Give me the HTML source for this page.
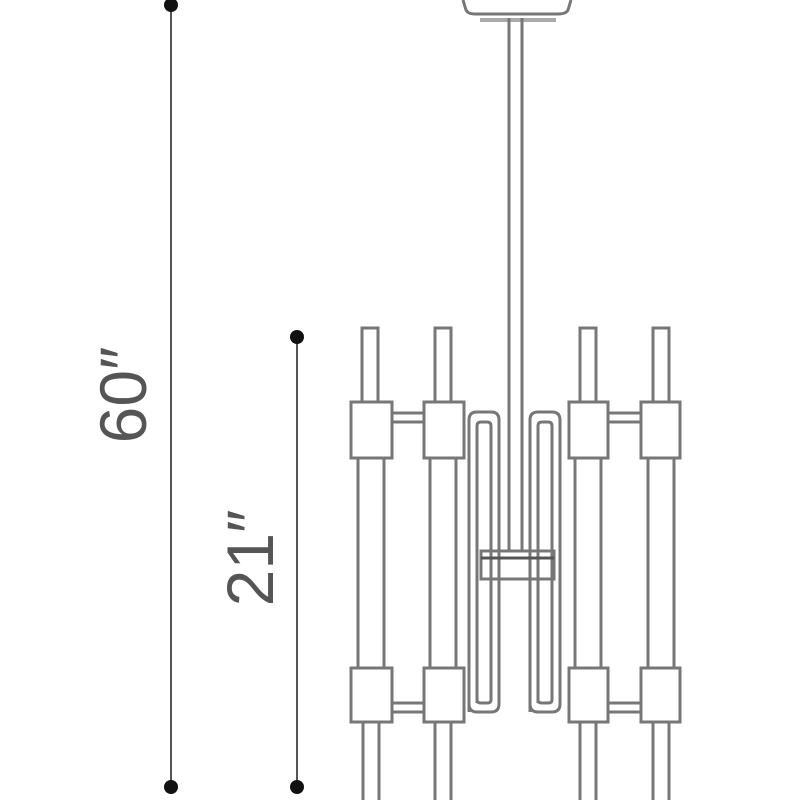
<!DOCTYPE html>
<html><head><meta charset="utf-8"><style>
html,body{margin:0;padding:0;background:#fff;}
svg{display:block}
text{font-family:"Liberation Sans",sans-serif;fill:#555;}
</style></head><body>
<svg width="800" height="800" viewBox="0 0 800 800" xmlns="http://www.w3.org/2000/svg">
<g stroke="#666" stroke-width="2" fill="none">
  <line x1="171" y1="5" x2="171" y2="787" stroke="#555"/>
  <line x1="297" y1="337" x2="297" y2="787" stroke="#555"/>
</g>
<g fill="#111">
  <circle cx="171" cy="5" r="7"/>
  <circle cx="171" cy="787" r="7"/>
  <circle cx="297" cy="337" r="7"/>
  <circle cx="297" cy="787" r="7"/>
</g>
<text transform="translate(146,395) rotate(-90)" font-size="66" text-anchor="middle">60″</text>
<text transform="translate(273,558) rotate(-90)" font-size="66" text-anchor="middle">21″</text>

<g stroke="#777" stroke-width="3" fill="#fff">
  <!-- canopy -->
  <path d="M463,0 L466,10 Q468,14 475,14 L558,14 Q566,14 568,10 L571,0" />
  <line x1="480" y1="20" x2="556" y2="20" stroke="#aaa" stroke-width="4"/>
  <!-- stem -->
  <line x1="509" y1="18" x2="509" y2="552"/>
  <line x1="522" y1="18" x2="522" y2="552"/>

  <!-- loops left -->
  <path d="M469,712 L469,420 Q469,412 477,412 L491,412 Q499,412 499,420 L499,704 Q499,712 491,712 L477,712 Q469,712 469,704" fill="none"/>
  <path d="M477,703 L477,426 Q477,422 481,422 L487,422 Q491,422 491,426 L491,700 Q491,703 487,703 L481,703 Q477,703 477,700" fill="none"/>
  <!-- loops right -->
  <path d="M530,712 L530,420 Q530,412 538,412 L552,412 Q560,412 560,420 L560,704 Q560,712 552,712 L538,712 Q530,712 530,704" fill="none"/>
  <path d="M538,703 L538,426 Q538,422 542,422 L548,422 Q552,422 552,426 L552,700 Q552,703 548,703 L542,703 Q538,703 538,700" fill="none"/>

  <!-- center bracket -->
  <rect x="481" y="551" width="73" height="28" fill="none"/>
  <line x1="481" y1="558" x2="554" y2="558" stroke="#555"/>

  <!-- connectors -->
  <line x1="392" y1="413" x2="424" y2="413"/><line x1="392" y1="422" x2="424" y2="422"/>
  <line x1="608" y1="413" x2="641" y2="413"/><line x1="608" y1="422" x2="641" y2="422"/>
  <line x1="392" y1="703" x2="424" y2="703"/><line x1="392" y1="712" x2="424" y2="712"/>
  <line x1="608" y1="703" x2="641" y2="703"/><line x1="608" y1="712" x2="641" y2="712"/>

  <!-- columns -->
  <g id="c1">
    <rect x="362" y="328" width="16" height="76"/>
    <rect x="358" y="458" width="26" height="210"/>
    <rect x="351" y="402" width="41" height="56"/>
    <rect x="351" y="668" width="41" height="54"/>
    <rect x="363" y="722" width="16" height="80"/>
  </g>
  <g>
    <rect x="435" y="328" width="16" height="76"/>
    <rect x="430" y="458" width="26" height="210"/>
    <rect x="424" y="402" width="40" height="56"/>
    <rect x="424" y="668" width="40" height="54"/>
    <rect x="435" y="722" width="16" height="80"/>
  </g>
  <g>
    <rect x="580" y="328" width="16" height="76"/>
    <rect x="575" y="458" width="26" height="210"/>
    <rect x="569" y="402" width="39" height="56"/>
    <rect x="569" y="668" width="39" height="54"/>
    <rect x="580" y="722" width="16" height="80"/>
  </g>
  <g>
    <rect x="653" y="328" width="16" height="76"/>
    <rect x="648" y="458" width="26" height="210"/>
    <rect x="641" y="402" width="39" height="56"/>
    <rect x="641" y="668" width="39" height="54"/>
    <rect x="653" y="722" width="16" height="80"/>
  </g>
</g>
</svg>
</body></html>
